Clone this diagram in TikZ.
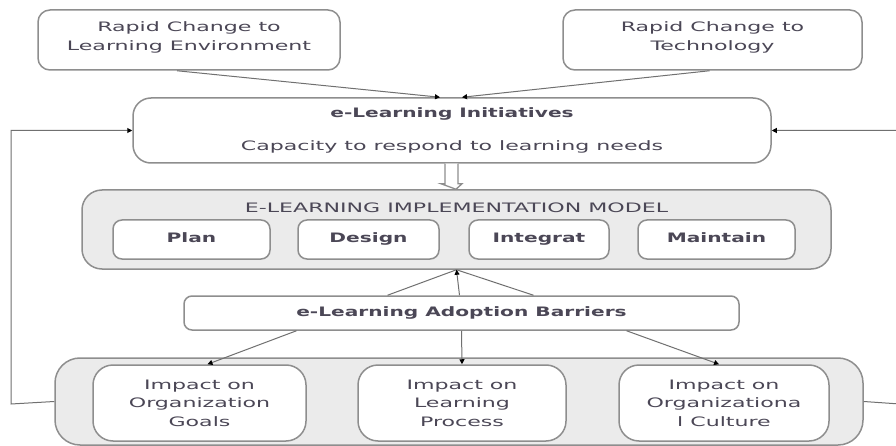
\documentclass[tikz,border=0pt]{standalone}
\usepackage{fontspec}
\setmainfont{DejaVu Sans}[FakeStretch=1.7, BoldFeatures={FakeStretch=1.55}]
\usetikzlibrary{arrows.meta,calc}
\definecolor{edge}{HTML}{8E8E8E}
\definecolor{panel}{HTML}{EBEBEB}
\definecolor{ink}{HTML}{4B4756}
\definecolor{wire}{HTML}{707070}
\tikzset{
  txt/.style={font=\fontsize{13}{18.5}\selectfont, text=ink, align=center, inner sep=0pt},
  box/.style={txt, draw=edge, line width=1.5pt, fill=white, rectangle},
  boldbox/.style={box, font=\bfseries\fontsize{13}{18.5}\selectfont},
  phasebox/.style={boldbox, rounded corners=9pt, minimum height=39pt, text height=10pt, text depth=4pt},
  panelbox/.style={draw=edge, line width=1.5pt, fill=panel, rectangle, inner sep=0pt},
  wirebase/.style={draw=wire, line width=1pt},
  flow/.style={wirebase, -{Triangle[length=5pt,width=5pt,fill=black,color=black]}},
}
\begin{document}
\begin{tikzpicture}[x=1pt,y=-1pt]
\clip (0,0) rectangle (896,446);
\fill[white] (0,0) rectangle (896,446);

% drivers of change
\node[box, rounded corners=12pt, minimum width=302pt, minimum height=60pt] (env) at (189,40)
  {Rapid Change to\\Learning Environment\rule[-8pt]{0pt}{0pt}};
\node[box, rounded corners=12pt, minimum width=299pt, minimum height=60pt] (tech) at (712.5,40)
  {Rapid Change to\\Technology\rule[-8pt]{0pt}{0pt}};

% initiatives
\node[box, rounded corners=18pt, minimum width=638pt, minimum height=65pt] (init) at (452,130.5)
  {\textbf{e-Learning Initiatives}\\[14pt]Capacity to respond to learning needs};

% implementation model
\node[panelbox, rounded corners=20pt, minimum width=749pt, minimum height=79pt] (model) at (456.5,229.5) {};
\node[txt] (modeltitle) at (456.5,208) {E-LEARNING IMPLEMENTATION MODEL};
\node[phasebox, minimum width=157pt] (plan) at (191.5,239.5) {Plan};
\node[phasebox, minimum width=141pt] (design) at (368.5,239.5) {Design};
\node[phasebox, minimum width=140pt] (integ) at (539,239.5) {Integrat};
\node[phasebox, minimum width=157pt] (maint) at (716.5,239.5) {Maintain};

% barriers
\node[boldbox, rounded corners=8pt, minimum width=555pt, minimum height=34pt] (barr) at (461.5,313)
  {e-Learning Adoption Barriers};

% impacts
\node[panelbox, rounded corners=25pt, minimum width=808pt, minimum height=87pt] (impact) at (459,401.5) {};
\node[box, rounded corners=20pt, minimum width=213pt, minimum height=76pt] (goals) at (199.5,403)
  {Impact on\\Organization\\Goals};
\node[box, rounded corners=20pt, minimum width=208pt, minimum height=76pt] (proc) at (462,403)
  {Impact on\\Learning\\Process};
\node[box, rounded corners=20pt, minimum width=210pt, minimum height=76pt] (cult) at (724,403)
  {Impact on\\Organizationa\\l Culture};

% change drivers feed the initiatives
\draw[flow] ([xshift=-12pt]env.south) -- ([xshift=-12pt]init.north);
\draw[flow] ([xshift=-3pt]tech.south) -- ([xshift=10pt]init.north);

% hollow block arrow from initiatives down to the model
\coordinate (hollowtip) at ([xshift=-0.5pt]model.north);
\coordinate (hl) at ([xshift=-7pt]init.south);
\coordinate (hr) at ([xshift=6pt]init.south);
\draw[draw=edge, line width=1.3pt, fill=white, line join=miter]
  (hl) -- ++(0,20) -- ++(-4,0) -- (hollowtip) -- ($(hr)+(4,20)$) -- ++(-4,0) -- (hr);

% barriers reach back up to the model
\draw[wirebase] ([xshift=-74pt]barr.north) -- (model.south);
\draw[wirebase] ([xshift=72pt]barr.north) -- (model.south);
\draw[flow] ([xshift=-2pt]barr.north) -- (model.south);

% barriers act on each impact
\draw[flow] ([xshift=-165pt]barr.south) -- ([xshift=8pt]goals.north);
\draw[flow] (barr.south) -- (proc.north);
\draw[flow] ([xshift=165pt]barr.south) -- ([xshift=-5pt]cult.north);

% feedback loops
\coordinate (lcorner) at (11,404);
\coordinate (rcorner) at (900,404);
\draw[flow] (impact.west) -- (lcorner) |- (init.west);
\draw[flow] (impact.east) -- (rcorner) |- (init.east);
\end{tikzpicture}
\end{document}
